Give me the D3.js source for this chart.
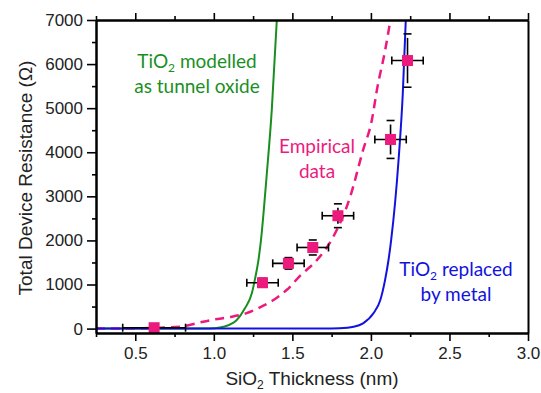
<!DOCTYPE html>
<html>
<head>
<meta charset="utf-8">
<script src="https://cdn.jsdelivr.net/npm/d3@7"></script>
<style>
    body { margin: 0; background: #fff; }
    text { font-family: "Liberation Sans", Arial, sans-serif; }
    text.note, text.note tspan { font-family: Lato, "Open Sans", sans-serif; }
</style>
</head>
<body>
<svg id="chart"></svg>
<script>
// measured devices: thickness (nm), resistance (ohm) and their error bars
const thickness = [0.62, 1.31, 1.475, 1.63, 1.79, 2.125, 2.233];
const resistance = [20, 1040, 1480, 1840, 2560, 4290, 6080];
const thicknessErr = [0.2, 0.1, 0.1, 0.1, 0.1, 0.1, 0.1];
const resistanceErr = [0, 100, 130, 170, 270, 430, 605];

// model curves, [thickness, resistance]
const tunnelOxide = [[0.25, 0], [0.95, 0], [1.0, 8], [1.061, 40], [1.146, 195], [1.199, 467], [1.242, 800],
    [1.263, 1140], [1.284, 1550], [1.300, 2000], [1.337, 3500], [1.369, 4960], [1.401, 7000]];
const empirical = [[0.25, 0], [0.45, 4], [0.6, 12], [0.8, 50], [0.9, 130], [1.0, 205], [1.1, 260], [1.2, 340],
    [1.3, 490], [1.38, 650], [1.465, 880], [1.55, 1200], [1.658, 1560], [1.76, 2080], [1.868, 2990],
    [1.95, 4050], [2.006, 4730], [2.038, 5410], [2.091, 6320], [2.118, 6870]];
const metal = [[0.25, 0], [1.7, 0], [1.8, 8], [1.89, 43], [1.95, 120], [2.016, 347], [2.06, 649],
    [2.09, 1100], [2.112, 1556], [2.129, 2010], [2.176, 3824], [2.203, 5338], [2.222, 7000]];

const xTicks = [0.5, 1.0, 1.5, 2.0, 2.5, 3.0];
const xMinor = [0.25, 0.75, 1.25, 1.75, 2.25, 2.75];
const yTicks = [0, 1000, 2000, 3000, 4000, 5000, 6000, 7000];
const yMinor = [500, 1500, 2500, 3500, 4500, 5500, 6500];

const pink = "#ec1a7d", green = "#1a8f1f", blue = "#1212e0";

let svg = d3.select("#chart")
    .attr("width", 541)
    .attr("height", 393);

let xScale = d3.scaleLinear().domain([0.25, 3.0]).range([96, 528]);
let yScale = d3.scaleLinear().domain([-100, 7000]).range([333, 20]);

// clip for the curves
svg.append("clipPath").attr("id", "plot")
    .append("rect")
    .attr("x", 96).attr("y", 20)
    .attr("width", 432).attr("height", 313);

let line = d3.line()
    .x(d => xScale(d[0]))
    .y(d => yScale(d[1]))
    .curve(d3.curveMonotoneX);

let curves = svg.append("g").attr("clip-path", "url(#plot)");

curves.append("path")
    .datum(tunnelOxide)
    .attr("d", line)
    .attr("fill", "none")
    .attr("stroke", green)
    .attr("stroke-width", 2);

curves.append("path")
    .datum(empirical)
    .attr("d", line)
    .attr("fill", "none")
    .attr("stroke", pink)
    .attr("stroke-width", 2.5)
    .attr("stroke-dasharray", "9,6");

curves.append("path")
    .datum(metal)
    .attr("d", line)
    .attr("fill", "none")
    .attr("stroke", blue)
    .attr("stroke-width", 2);

// error bars
let points = thickness.map((t, i) => ({ x: t, y: resistance[i], dx: thicknessErr[i], dy: resistanceErr[i] }));

let bars = svg.append("g")
    .attr("stroke", "#000")
    .attr("stroke-width", 1.6);

points.forEach(p => {
    let cx = xScale(p.x), cy = yScale(p.y);
    let x0 = xScale(p.x - p.dx), x1 = xScale(p.x + p.dx);
    bars.append("line").attr("x1", x0).attr("x2", x1).attr("y1", cy).attr("y2", cy);
    bars.append("line").attr("x1", x0).attr("x2", x0).attr("y1", cy - 4).attr("y2", cy + 4);
    bars.append("line").attr("x1", x1).attr("x2", x1).attr("y1", cy - 4).attr("y2", cy + 4);
    let y0 = yScale(p.y - p.dy), y1 = yScale(p.y + p.dy);
    bars.append("line").attr("x1", cx).attr("x2", cx).attr("y1", y0 - 4).attr("y2", y1 + 4);
    bars.append("line").attr("x1", cx - 4).attr("x2", cx + 4).attr("y1", y0).attr("y2", y0);
    bars.append("line").attr("x1", cx - 4).attr("x2", cx + 4).attr("y1", y1).attr("y2", y1);
});

svg.append("g").selectAll("rect")
    .data(points)
    .enter()
        .append("rect")
        .attr("x", d => xScale(d.x) - 5.5)
        .attr("y", d => yScale(d.y) - 5.5)
        .attr("width", 11)
        .attr("height", 11)
        .attr("fill", pink);

// axes
function styleAxis(g) {
    g.attr("font-family", "Liberation Sans, Arial, sans-serif");
    g.select(".domain").attr("stroke", "#000").attr("stroke-width", 2);
    g.selectAll(".tick line").attr("stroke", "#000").attr("stroke-width", 1.6);
    g.selectAll(".tick text").attr("fill", "#222").style("font-size", "17px");
}

let xAxis = d3.axisBottom(xScale).tickValues(xTicks).tickFormat(d3.format(".1f")).tickSize(8).tickSizeOuter(0).tickPadding(6);
svg.append("g")
    .attr("transform", `translate(0, ${333})`)
    .call(xAxis)
    .call(styleAxis);
svg.append("g")
    .attr("transform", `translate(0, ${333})`)
    .call(d3.axisBottom(xScale).tickValues(xMinor).tickFormat("").tickSize(4).tickSizeOuter(0))
    .call(styleAxis);

svg.append("g")
    .attr("transform", `translate(0, ${20})`)
    .call(d3.axisTop(xScale).tickValues(xTicks).tickFormat("").tickSize(7).tickSizeOuter(0))
    .call(styleAxis);
svg.append("g")
    .attr("transform", `translate(0, ${20})`)
    .call(d3.axisTop(xScale).tickValues(xMinor).tickFormat("").tickSize(4).tickSizeOuter(0))
    .call(styleAxis);

svg.append("g")
    .attr("transform", `translate(${96}, 0)`)
    .call(d3.axisLeft(yScale).tickValues(yTicks).tickFormat(d3.format("d")).tickSize(9).tickSizeOuter(0).tickPadding(4))
    .call(styleAxis);
svg.append("g")
    .attr("transform", `translate(${96}, 0)`)
    .call(d3.axisLeft(yScale).tickValues(yMinor).tickFormat("").tickSize(4).tickSizeOuter(0))
    .call(styleAxis);

svg.append("g")
    .attr("transform", `translate(${528}, 0)`)
    .call(d3.axisRight(yScale).tickValues([]).tickSizeOuter(0))
    .call(styleAxis);

// axis titles
let xTitle = svg.append("text")
    .attr("x", 312).attr("y", 385)
    .attr("text-anchor", "middle")
    .attr("fill", "#222")
    .style("font-size", "19px");
xTitle.append("tspan").text("SiO");
xTitle.append("tspan").attr("dy", 4).style("font-size", "12px").text("2");
xTitle.append("tspan").attr("dy", -4).text(" Thickness (nm)");

svg.append("text")
    .attr("transform", "translate(32, 178) rotate(-90)")
    .attr("text-anchor", "middle")
    .attr("fill", "#222")
    .style("font-size", "19px")
    .text("Total Device Resistance (Ω)");

// curve labels
function note(lines, x, y, color) {
    let t = svg.append("text")
        .attr("class", "note")
        .attr("text-anchor", "middle")
        .attr("fill", color)
        .style("font-size", "19px");
    lines.forEach((parts, i) => {
        let first = true;
        parts.forEach(p => {
            let ts = t.append("tspan").text(p.text);
            if (first) { ts.attr("x", x).attr("y", y + i * 25); first = false; }
            if (p.sub) ts.attr("dy", 4).style("font-size", "12px");
            else if (p.after) ts.attr("dy", -4);
        });
    });
}

note([[{ text: "TiO" }, { text: "2", sub: true }, { text: " modelled", after: true }],
      [{ text: "as tunnel oxide" }]], 197, 68, green);
note([[{ text: "Empirical" }], [{ text: "data" }]], 317, 153, pink);
note([[{ text: "TiO" }, { text: "2", sub: true }, { text: " replaced", after: true }],
      [{ text: "by metal" }]], 456, 276, blue);
</script>
</body>
</html>
